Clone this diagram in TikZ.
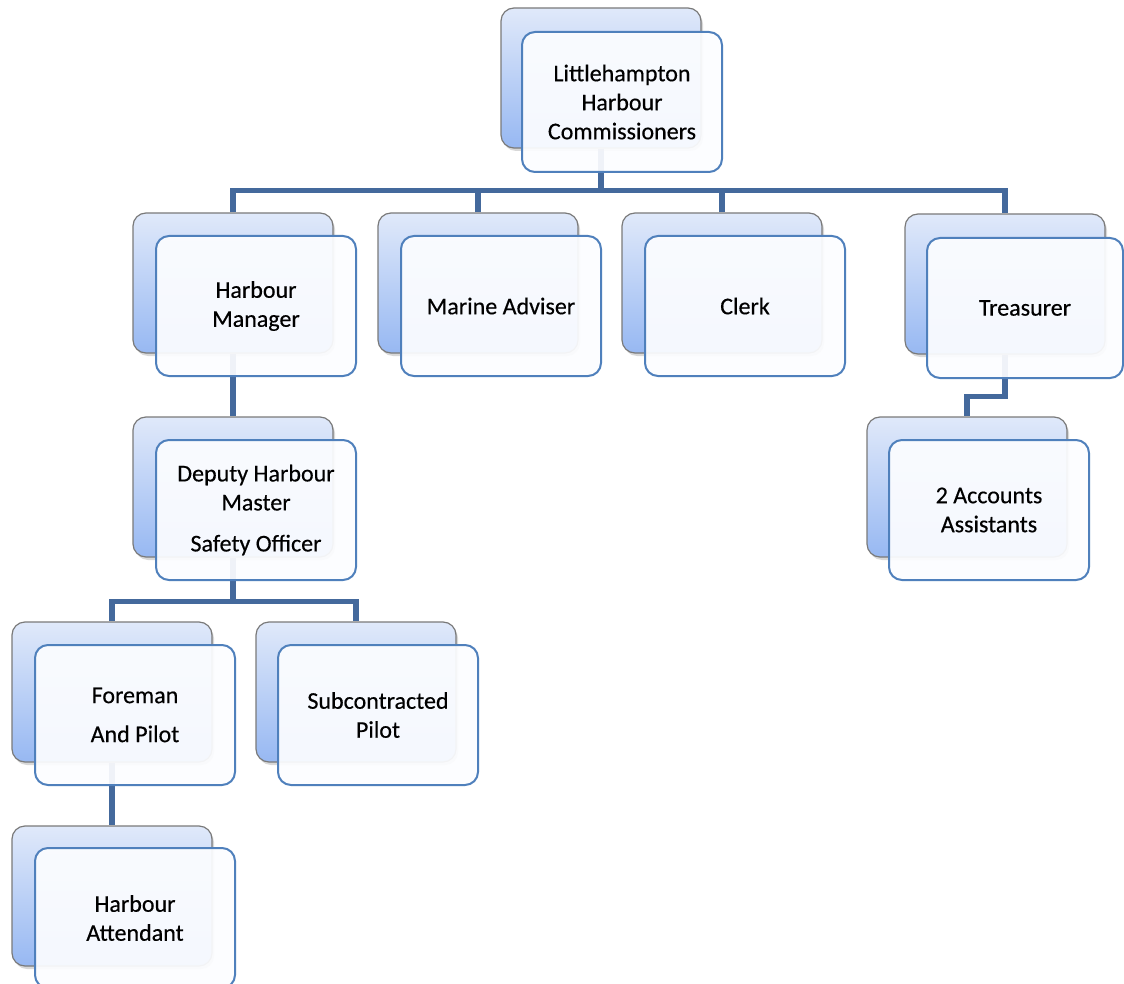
\documentclass[tikz,border=0pt]{standalone}
\usepackage{fontspec}
\setmainfont{Carlito}
\newfontfamily\boxfont{Carlito}[FakeBold=0.4]
\usetikzlibrary{shadows}
\pgfdeclarelayer{bg}
\pgfsetlayers{bg,main}
\definecolor{linec}{HTML}{44699C}
\definecolor{frontc}{HTML}{4F80BC}
\definecolor{frontfill}{HTML}{FCFDFF}
\definecolor{bTop}{HTML}{E0E9FA}
\definecolor{bBot}{HTML}{97B8F2}
\definecolor{bEdge}{HTML}{7A7A7A}
\begin{document}
\begin{tikzpicture}[x=1pt,y=-1pt,
  backbox/.style={rectangle, rounded corners=13pt, draw=bEdge, line width=1.2pt,
    top color=bTop, bottom color=bBot, minimum width=200pt, minimum height=140pt,
    inner sep=0pt, drop shadow={shadow xshift=2pt,shadow yshift=-3pt,opacity=0.3}},
  frontbox/.style={rectangle, rounded corners=13pt, draw=frontc, line width=2pt,
    fill=frontfill, fill opacity=0.93, text opacity=1, minimum width=200pt,
    minimum height=140pt, inner sep=0pt, align=center,
    font=\boxfont\fontsize{24}{29}\selectfont},
  conn/.style={draw=linec, line width=5.5pt}]
\useasboundingbox (0,0) rectangle (1124,984);
\clip (0,0) rectangle (1124,984);
\begin{pgfonlayer}{bg}
\fill[white] (0,0) rectangle (1124,984);
\end{pgfonlayer}
% back boxes
\node[backbox] (topb) at (601,78) {};
\node[backbox] (hmb) at (233,283) {};
\node[backbox] (mab) at (478,283) {};
\node[backbox] (clb) at (722,283) {};
\node[backbox] (trb) at (1005,284) {};
\node[backbox] (depb) at (233,487) {};
\node[backbox] (acb) at (967,487) {};
\node[backbox] (fob) at (112,692) {};
\node[backbox] (sub) at (356,692) {};
\node[backbox] (atb) at (112,896) {};
% front boxes
\node[frontbox] (top) at (622,102) {Littlehampton\\Harbour\\Commissioners};
\node[frontbox] (hm) at (256,306) {Harbour\\Manager};
\node[frontbox] (ma) at (501,306) {Marine Adviser};
\node[frontbox] (cl) at (745,306) {Clerk};
\node[frontbox, minimum width=196pt] (tr) at (1025,308) {Treasurer};
\node[frontbox] (dep) at (256,510) {Deputy Harbour\\Master\\[12pt]Safety Officer};
\node[frontbox] (ac) at (989,510) {2 Accounts\\Assistants};
\node[frontbox] (fo) at (135,715) {Foreman\\[10pt]And Pilot};
\node[frontbox] (su) at (378,715) {Subcontracted\\Pilot};
\node[frontbox] (at) at (135,918) {Harbour\\Attendant};
% connectors
\begin{pgfonlayer}{bg}
\draw[conn] (topb.south) -- ++(0,43);
\draw[conn] (hmb.north) -- ++(0,-22) -| (trb.north);
\draw[conn] (mab.north) -- ++(0,-22);
\draw[conn] (clb.north) -- ++(0,-22);
\draw[conn] (hmb.south) -- (depb.north);
\draw[conn] (depb.south) -- ++(0,45);
\draw[conn] (fob.north) -- ++(0,-20) -| (sub.north);
\draw[conn] (fob.south) -- (atb.north);
\draw[conn] (trb.south) -- ++(0,42) -| (acb.north);
\end{pgfonlayer}
\end{tikzpicture}
\end{document}
